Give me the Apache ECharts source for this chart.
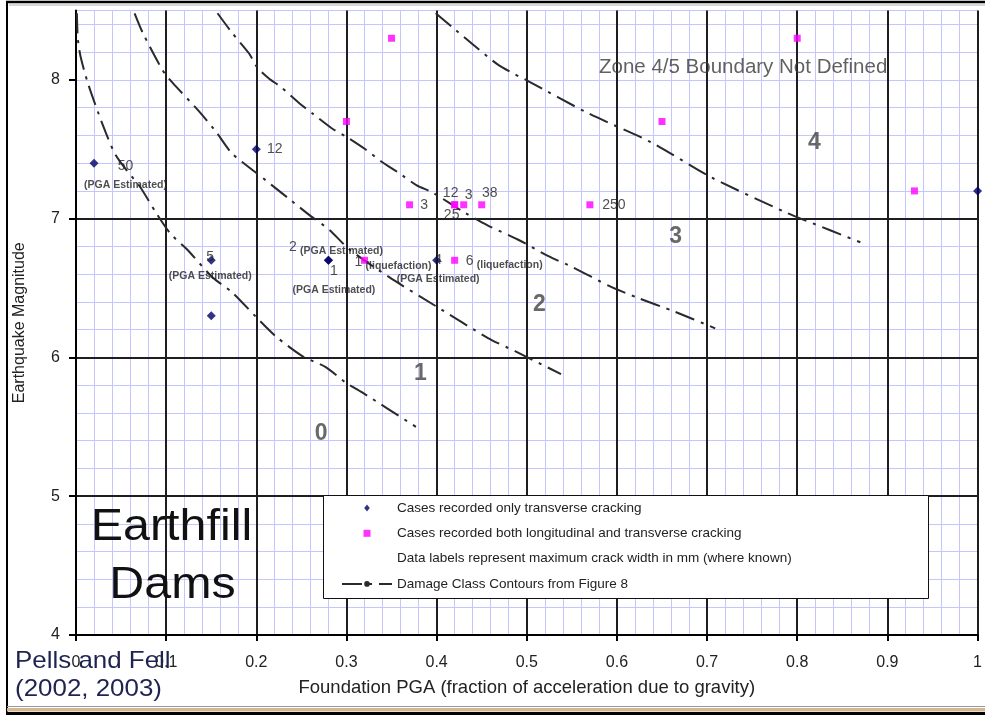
<!DOCTYPE html>
<html>
<head>
<meta charset="utf-8">
<script src="https://cdn.jsdelivr.net/npm/echarts@6/dist/echarts.min.js"></script>
<style>html,body{margin:0;padding:0;background:#fff}#c{width:985px;height:715px}</style>
</head>
<body>
<div id="c"></div>
<script>
// ---------------- data ----------------
const transverseName = 'Cases recorded only transverse cracking';
const bothName = 'Cases recorded both longitudinal and transverse cracking';
const noteName = 'Data labels represent maximum crack width in mm (where known)';
const contourName = 'Damage Class Contours from Figure 8';

const transverseX = [0.02, 0.20, 0.15, 0.15, 0.28, 0.28, 0.40, 1.00];
const transverseY = [7.40, 7.50, 6.70, 6.30, 6.70, 6.70, 6.70, 7.20];
const transverseLabels = ['50 (PGA Estimated)', '12', '5 (PGA Estimated)', '', '2 (PGA Estimated)', '1 (PGA Estimated)', '4 (PGA Estimated)', ''];

const bothX = [0.35, 0.30, 0.37, 0.42, 0.42, 0.43, 0.45, 0.32, 0.42, 0.57, 0.65, 0.80, 0.93];
const bothY = [8.30, 7.70, 7.10, 7.10, 7.10, 7.10, 7.10, 6.70, 6.70, 7.10, 7.70, 8.30, 7.20];
const bothLabels = ['', '', '3', '12', '25', '3', '38', '1 (liquefaction)', '6 (liquefaction)', '250', '', '', ''];

const contour0X = [0.001, 0.002, 0.005, 0.013, 0.030, 0.043, 0.056, 0.071, 0.089, 0.105, 0.123, 0.151, 0.173, 0.200, 0.222, 0.251, 0.277, 0.299, 0.317, 0.377];
const contour0Y = [8.48, 8.30, 8.17, 7.98, 7.67, 7.47, 7.35, 7.23, 7.04, 6.89, 6.78, 6.58, 6.47, 6.29, 6.15, 6.01, 5.93, 5.82, 5.75, 5.50];
const contour1X = [0.065, 0.074, 0.096, 0.107, 0.137, 0.156, 0.173, 0.200, 0.235, 0.260, 0.281, 0.303, 0.347, 0.399, 0.457, 0.487, 0.538];
const contour1Y = [8.48, 8.34, 8.07, 7.98, 7.77, 7.62, 7.47, 7.33, 7.15, 7.02, 6.92, 6.78, 6.58, 6.37, 6.14, 6.045, 5.88];
const contour2X = [0.157, 0.173, 0.192, 0.201, 0.214, 0.227, 0.248, 0.262, 0.284, 0.300, 0.321, 0.339, 0.358, 0.378, 0.395, 0.432, 0.457, 0.490, 0.524, 0.551, 0.593, 0.623, 0.664, 0.709];
const contour2Y = [8.48, 8.34, 8.19, 8.09, 8.01, 7.95, 7.83, 7.76, 7.65, 7.59, 7.50, 7.41, 7.33, 7.24, 7.19, 7.04, 6.95, 6.85, 6.73, 6.65, 6.51, 6.43, 6.33, 6.21];
const contour3X = [0.399, 0.421, 0.443, 0.468, 0.487, 0.502, 0.568, 0.638, 0.704, 0.789, 0.808, 0.870];
const contour3Y = [8.48, 8.36, 8.24, 8.11, 8.04, 7.99, 7.76, 7.55, 7.30, 7.04, 6.99, 6.83];

const zoneX = [0.272, 0.382, 0.514, 0.665, 0.819];
const zoneY = [5.45, 5.88, 6.38, 6.87, 7.55];
const zoneLabels = ['0', '1', '2', '3', '4'];
const noteX = [0.74];
const noteY = [8.09];
const noteLabels = ['Zone 4/5 Boundary Not Defined'];

const xTickValues = [0, 0.1, 0.2, 0.3, 0.4, 0.5, 0.6, 0.7, 0.8, 0.9, 1];
const yTickValues = [4, 5, 6, 7, 8];

// ---------------- styles (label placement) ----------------
const transverseLabelStyle = [
  {offset: [31.5, 10.5], stack: true},
  {offset: [18.5, 0]},
  {offset: [-1, 4.5], stack: true},
  null,
  {offset: [7.5, -13]},
  {offset: [5.5, 18.5], stack: true},
  {offset: [1.5, 7.5], stack: true},
  null
];
const bothLabelStyle = [
  null, null,
  {offset: [14.5, 0]},
  {offset: [-4, -12]},
  {offset: [-3, 10]},
  {offset: [5, -9.5]},
  {offset: [8, -11.5]},
  {offset: [28.5, 2]},
  {offset: [49.5, 1]},
  {offset: [24, 0]},
  null, null, null
];

const FONT = '"Liberation Sans", Arial, sans-serif';
const TXT = '#222';

function richLabel(t, stack) {
  const k = t.indexOf(' ');
  if (k < 0) return '{n|' + t + '}';
  return '{n|' + t.slice(0, k) + '}' + (stack ? '\n' : ' ') + '{s|' + t.slice(k + 1) + '}';
}
function buildPoints(xs, ys, labels, styles) {
  return xs.map((x, i) => {
    const item = {value: [x, ys[i]]};
    const st = styles[i];
    if (labels[i] && st) {
      item.label = {show: true, position: 'inside', offset: st.offset, formatter: richLabel(labels[i], st.stack)};
    }
    return item;
  });
}
function zip(xs, ys) { return xs.map((x, i) => [x, ys[i]]); }

const pointLabel = {
  show: false,
  color: TXT,
  fontFamily: FONT,
  rich: {
    n: {fontSize: 14, lineHeight: 19, color: TXT, fontFamily: FONT},
    s: {fontSize: 10.5, fontWeight: 'bold', lineHeight: 15, verticalAlign: 'bottom', color: TXT, fontFamily: FONT}
  }
};

const contourStyle = {color: '#2a2a2a', width: 2, type: [20, 7, 3, 7]};
function contourSeries(xs, ys) {
  return {
    name: contourName, type: 'line', data: zip(xs, ys), symbol: 'none', smooth: 0.25,
    lineStyle: contourStyle, itemStyle: {color: '#2a2a2a'}, silent: true, z: 3
  };
}

const chart = echarts.init(document.getElementById('c'), null, {renderer: 'canvas'});

const option = {
  animation: false,
  textStyle: {fontFamily: FONT},
  grid: {left: 76, right: 4, top: 10.5, bottom: 80, show: false},
  xAxis: [
    {
      type: 'value', min: 0, max: 1, interval: 0.1, position: 'bottom', z: 1,
      name: 'Foundation PGA (fraction of acceleration due to gravity)',
      nameLocation: 'middle', nameGap: 43,
      nameTextStyle: {fontSize: 18.5, color: TXT, fontFamily: FONT},
      axisLine: {show: true, onZero: false, lineStyle: {color: '#000', width: 2}},
      axisTick: {show: true, inside: false, length: 6, lineStyle: {color: '#000', width: 2}},
      axisLabel: {fontSize: 16, color: TXT, margin: 20, fontFamily: FONT,
        formatter: v => { const t = xTickValues.find(a => Math.abs(a - v) < 1e-9); return t === undefined ? '' : String(t); }},
      splitLine: {show: true, lineStyle: {color: '#1e1e1e', width: 2}}
    },
    {
      type: 'value', min: 0, max: 1, interval: 0.02, position: 'bottom', z: 0,
      axisLine: {show: false}, axisTick: {show: false}, axisLabel: {show: false},
      splitLine: {show: true, lineStyle: {color: '#c6c6ff', width: 1}}
    }
  ],
  yAxis: [
    {
      type: 'value', min: 4, max: 8.5, interval: 1, position: 'left', z: 1,
      name: 'Earthquake Magnitude', nameLocation: 'middle', nameGap: 48,
      nameTextStyle: {fontSize: 16, color: TXT, fontFamily: FONT},
      axisLine: {show: true, onZero: false, lineStyle: {color: '#000', width: 2}},
      axisTick: {show: true, inside: false, length: 7, lineStyle: {color: '#000', width: 2}, customValues: yTickValues},
      axisLabel: {fontSize: 16, color: TXT, margin: 16, fontFamily: FONT, customValues: yTickValues,
        formatter: v => (yTickValues.indexOf(v) >= 0 ? String(v) : '')},
      splitLine: {show: true, showMaxLine: false, lineStyle: {color: '#1e1e1e', width: 2}}
    },
    {
      type: 'value', min: 4, max: 8.5, interval: 0.2, position: 'left', z: 0,
      axisLine: {show: false}, axisTick: {show: false}, axisLabel: {show: false},
      splitLine: {show: true, lineStyle: {color: '#c6c6ff', width: 1}}
    }
  ],
  legend: {
    show: true, orient: 'vertical', left: 341, top: 500, padding: 0,
    itemGap: 9.3, itemWidth: 50, itemHeight: 7, selectedMode: false, z: 6,
    symbolKeepAspect: true,
    textStyle: {fontSize: 13.5, color: TXT, lineHeight: 16, fontFamily: FONT},
    data: [
      {name: transverseName, icon: 'path://M0,5L4,0L8,5L4,10Z'},
      {name: bothName, icon: 'path://M0,0H10V10H0Z'},
      {name: noteName, icon: 'path://M0,0H10V10H0Z', itemStyle: {color: 'rgba(0,0,0,0)', borderWidth: 0}},
      {name: contourName}
    ]
  },
  graphic: [
    // legend box
    {type: 'rect', z: 5, silent: true, shape: {x: 323.5, y: 495.5, width: 605, height: 103},
      style: {fill: '#fff', stroke: '#111', lineWidth: 1}},
    // title block texts
    {type: 'text', z: 5, x: 171.5, y: 527.5, scaleX: 1.1, silent: true,
      style: {text: 'Earthfill', fontSize: 44, fontFamily: FONT, fill: '#111', align: 'center', textAlign: 'center', verticalAlign: 'middle', textVerticalAlign: 'middle'}},
    {type: 'text', z: 5, x: 172.5, y: 585.5, scaleX: 1.1, silent: true,
      style: {text: 'Dams', fontSize: 44, fontFamily: FONT, fill: '#111', align: 'center', textAlign: 'center', verticalAlign: 'middle', textVerticalAlign: 'middle'}},
    {type: 'text', z: 5, x: 15, y: 661.5, scaleX: 1.08, silent: true,
      style: {text: 'Pells and Fell', fontSize: 24, fontFamily: FONT, fill: '#1e2350', align: 'left', textAlign: 'left', verticalAlign: 'middle', textVerticalAlign: 'middle'}},
    {type: 'text', z: 5, x: 15, y: 689, scaleX: 1.08, silent: true,
      style: {text: '(2002, 2003)', fontSize: 24, fontFamily: FONT, fill: '#1e2350', align: 'left', textAlign: 'left', verticalAlign: 'middle', textVerticalAlign: 'middle'}},
    // outer frame
    {type: 'line', z: 7, silent: true, shape: {x1: 7, y1: 1, x2: 7, y2: 715}, style: {stroke: '#000', lineWidth: 2}},
    {type: 'line', z: 7, silent: true, shape: {x1: 6, y1: 2, x2: 985, y2: 2}, style: {stroke: '#000', lineWidth: 2.5}},
    {type: 'line', z: 7, silent: true, shape: {x1: 9, y1: 5, x2: 985, y2: 5}, style: {stroke: '#b0b0b0', lineWidth: 1}},
    {type: 'line', z: 7, silent: true, shape: {x1: 7, y1: 706.5, x2: 985, y2: 706.5}, style: {stroke: '#999', lineWidth: 1}},
    {type: 'rect', z: 7, silent: true, shape: {x: 7, y: 708, width: 978, height: 3.5}, style: {fill: '#d4b890'}},
    {type: 'rect', z: 7, silent: true, shape: {x: 6, y: 712, width: 979, height: 3}, style: {fill: '#000'}}
  ],
  series: [
    {
      name: transverseName, type: 'scatter', symbol: 'diamond', symbolSize: [9, 9],
      itemStyle: {color: '#000066'}, label: pointLabel, z: 4,
      data: buildPoints(transverseX, transverseY, transverseLabels, transverseLabelStyle)
    },
    {
      name: bothName, type: 'scatter', symbol: 'rect', symbolSize: 7,
      itemStyle: {color: '#ff00ff'}, label: pointLabel, z: 4,
      data: buildPoints(bothX, bothY, bothLabels, bothLabelStyle)
    },
    {name: noteName, type: 'scatter', data: [], itemStyle: {color: 'rgba(0,0,0,0)'}},
    contourSeries(contour0X, contour0Y),
    contourSeries(contour1X, contour1Y),
    contourSeries(contour2X, contour2Y),
    contourSeries(contour3X, contour3Y),
    {
      name: 'zones', type: 'scatter', symbolSize: 1, silent: true, z: 4,
      itemStyle: {color: 'rgba(0,0,0,0)'},
      label: {show: true, position: 'inside', fontSize: 23, fontWeight: 'bold', color: '#444', fontFamily: FONT,
        formatter: p => zoneLabels[p.dataIndex]},
      data: zip(zoneX, zoneY)
    },
    {
      name: 'note', type: 'scatter', symbolSize: 1, silent: true, z: 4,
      itemStyle: {color: 'rgba(0,0,0,0)'},
      label: {show: true, position: 'inside', fontSize: 20.5, color: '#3a3a3a', fontFamily: FONT,
        formatter: p => noteLabels[p.dataIndex]},
      data: zip(noteX, noteY)
    }
  ]
};
chart.setOption(option);
</script>
</body>
</html>
